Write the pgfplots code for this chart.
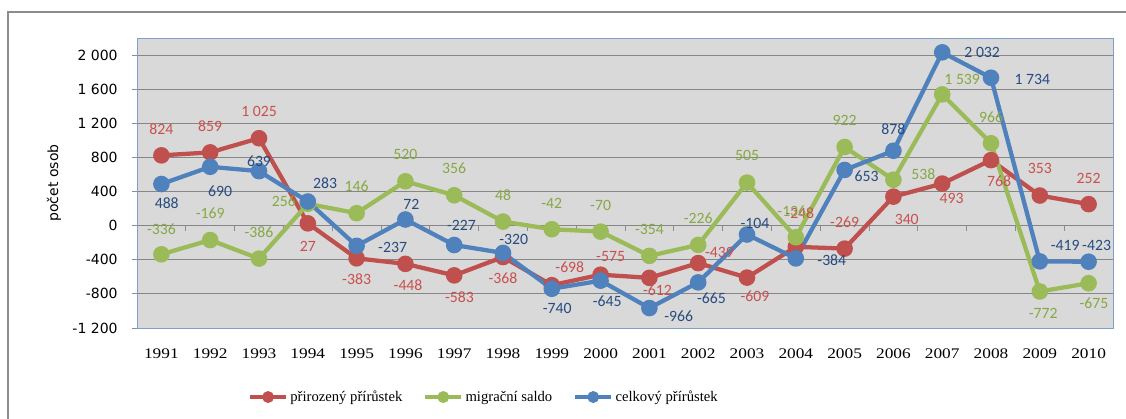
\documentclass[border=0pt]{standalone}
\usepackage{pgfplots}
\pgfplotsset{compat=1.18}
\usepackage{pgfplotstable}
\usepackage{fontspec}
\setmainfont{Liberation Serif}
\newfontfamily\ticksans{DejaVu Sans}
\newfontfamily\labfont{Carlito}
\newfontfamily\xfont[FakeStretch=1.18]{Liberation Serif}

\definecolor{cred}{HTML}{C0504D}
\definecolor{cgreen}{HTML}{9BBB59}
\definecolor{cblue}{HTML}{4F81BD}
\definecolor{lred}{HTML}{C9504D}
\definecolor{lgreen}{HTML}{86A844}
\definecolor{lblue}{HTML}{274B80}
\definecolor{plotbg}{HTML}{D9D9D9}
\definecolor{gridgray}{HTML}{868686}
\definecolor{borderblue}{HTML}{7FA0CF}
\definecolor{tickgray}{HTML}{8C8C8C}
\definecolor{framegray}{HTML}{8C8C8C}

% x = index (0 = 1991), y = value, dx/dy = label offset in pt
\pgfplotstableread{
x y dx dy
0 824 0 19.5
1 859 0 20
2 1025 0 20
3 27 0 -17
4 -383 0 -16
5 -448 2 -16
6 -583 4 -16
7 -368 0 -16
8 -698 13.5 13.5
9 -575 7.5 13.5
10 -612 6 -9
11 -439 16 8
12 -609 6 -14
13 -248 3 25
14 -269 0 19.5
15 340 10 -17
16 493 7 -11.5
17 768 6 -15.5
18 353 0 20
19 252 0 19.5
}\tabred

\pgfplotstableread{
x y dx dy
0 -336 0 19
1 -169 0 20
2 -386 0 20
3 256 -18 2
4 146 0 20
5 520 0 20
6 356 0 20
7 48 0 19.5
8 -42 0 19.5
9 -70 0 20
10 -354 0 19.5
11 -226 0 20
12 505 0 20
13 -136 -3 19.5
14 922 0 20
15 538 22.5 4
16 1539 15 11
17 966 0 19.5
18 -772 2.5 -16.5
19 -675 4 -14.7
}\tabgreen

\pgfplotstableread{
x y dx dy
0 488 4 -14
1 690 7.5 -18
2 639 0 7.5
3 283 13 14
4 -237 27 -1
5 72 4.5 11
6 -227 5.5 15
7 -320 8 10
8 -740 4 -15
9 -645 5 -15.5
10 -966 22 -6
11 -665 10 -12
12 -104 6 8
13 -384 27 -1.5
14 653 16.5 -5
15 878 0 16
16 2032 30 0
17 1734 31 -1
18 -419 19 12
19 -423 6 12
}\tabblue

\pgfplotsset{
  lbl/.style={
    nodes near coords,
    point meta=y,
    visualization depends on={\thisrow{dx} \as \dx},
    visualization depends on={\thisrow{dy} \as \dy},
    every node near coord/.append style={font=\labfont\fontsize{11.8}{13}\selectfont,
      color=#1, anchor=center, xshift=\dx pt, yshift=\dy pt},
  },
}

\begin{document}
\begin{tikzpicture}
\useasboundingbox (0,0) rectangle (844.5pt,313.5pt);
\draw[color=framegray, line width=1.3pt] (6pt,-5pt) -- (6pt,304.5pt) -- (850pt,304.5pt);
\begin{axis}[
  at={(102.75pt,67.5pt)}, anchor=south west,
  scale only axis, width=732pt, height=217.5pt,
  xmin=-0.5, xmax=19.5, ymin=-1200, ymax=2200,
  xtick={0,...,19},
  xticklabels={1991,1992,1993,1994,1995,1996,1997,1998,1999,2000,2001,2002,2003,2004,2005,2006,2007,2008,2009,2010},
  ytick={-1200,-800,-400,0,400,800,1200,1600,2000},
  ymajorgrids, grid style={color=gridgray, line width=0.75pt},
  axis background/.style={fill=plotbg},
  axis line style={draw=borderblue, line width=0.6pt},
  xtick style={draw=none},
  ytick style={draw=tickgray, line width=0.6pt},
  tick align=outside, major tick length=4pt,
  ytick pos=left,
  /pgf/number format/assume math mode=true,
  /pgf/number format/1000 sep={\ },
  yticklabel style={font=\ticksans\fontsize{10.5}{12}\selectfont, xshift=-7pt},
  xticklabel style={font=\xfont\fontsize{11}{13}\selectfont, yshift=-8pt},
  ylabel={počet osob},
  ylabel style={font=\ticksans\fontsize{10.5}{12}\selectfont, at={(axis description cs:-0.085,0.5)}, anchor=center},
  clip=false,
  legend columns=3,
  legend cell align=left,
  legend style={at={(0.356,-0.238)}, anchor=center, draw=none, fill=none,
    font=\fontsize{11}{13}\selectfont,
    /tikz/every even column/.append style={column sep=14pt},
    /tikz/every odd column/.append style={column sep=0pt}},
  legend image code/.code={
    \draw[#1, line width=2.4pt, mark size=3.2pt, mark repeat=2, mark phase=2]
      plot coordinates {(0pt,0pt) (13.5pt,0pt) (27pt,0pt)};},
]
\pgfplotsinvokeforeach{0.5,1.5,...,18.5}{
  \draw[tickgray, line width=0.6pt] (axis cs:#1,0) -- ++(0pt,-4pt);
}
\addplot[color=cred, line width=3.2pt, mark=*, mark size=4.6pt, lbl=lred]
  table[x=x, y=y] {\tabred};
\addlegendentry{přirozený přírůstek}
\addplot[color=cgreen, line width=3.2pt, mark=*, mark size=4.6pt, lbl=lgreen]
  table[x=x, y=y] {\tabgreen};
\addlegendentry{migrační saldo}
\addplot[color=cblue, line width=3.2pt, mark=*, mark size=4.6pt, lbl=lblue]
  table[x=x, y=y] {\tabblue};
\addlegendentry{celkový přírůstek}
\end{axis}
\end{tikzpicture}
\end{document}
